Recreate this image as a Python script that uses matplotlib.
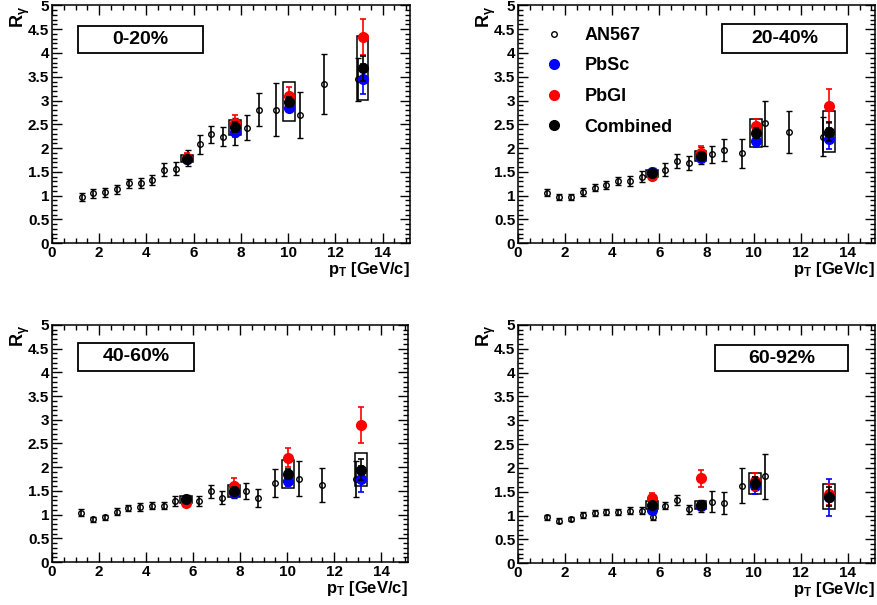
import numpy as np
import matplotlib
matplotlib.use('Agg')
import matplotlib.pyplot as plt
from matplotlib.lines import Line2D
from matplotlib.patches import Rectangle
from matplotlib.ticker import MultipleLocator

plt.rcParams['font.family'] = ['Liberation Sans', 'DejaVu Sans']
plt.rcParams['font.weight'] = 'bold'
plt.rcParams['mathtext.fontset'] = 'custom'
plt.rcParams['mathtext.rm'] = 'Liberation Sans:bold'
plt.rcParams['mathtext.it'] = 'Liberation Sans:bold'
plt.rcParams['mathtext.bf'] = 'Liberation Sans:bold'

nan = np.nan

# AN567 points (open circles)
an_x = [1.25, 1.75, 2.25, 2.75, 3.25, 3.75, 4.25, 4.75, 5.25, 5.75, 6.25,
        6.75, 7.25, 7.75, 8.25, 8.75, 9.5, 10.5, 11.5, 12.95]
an_y = {
    '0-20%':  [0.97, 1.05, 1.07, 1.13, 1.26, 1.27, 1.33, 1.55, 1.57, 1.80, 2.08,
               2.29, 2.24, 2.35, 2.43, 2.81, 2.81, 2.70, 3.34, 3.45],
    '20-40%': [1.06, 0.97, 0.97, 1.08, 1.17, 1.22, 1.31, 1.31, 1.40, 1.47, 1.55,
               1.73, 1.69, 1.85, 1.87, 1.96, 1.89, 2.52, 2.34, 2.24],
    '40-60%': [1.04, 0.90, 0.94, 1.06, 1.14, 1.16, 1.19, 1.19, 1.29, 1.32, 1.29,
               1.49, 1.36, 1.50, 1.50, 1.34, 1.67, 1.76, 1.62, 1.76],
    '60-92%': [0.96, 0.89, 0.93, 1.01, 1.05, 1.07, 1.07, 1.10, 1.10, 0.97, 1.21,
               1.33, 1.13, 1.20, 1.29, 1.26, 1.63, 1.82, nan, nan],
}
an_err = {
    '0-20%':  [0.08, 0.09, 0.09, 0.09, 0.10, 0.11, 0.11, 0.14, 0.14, 0.17, 0.20,
               0.18, 0.20, 0.29, 0.27, 0.35, 0.55, 0.49, 0.63, 0.45],
    '20-40%': [0.07, 0.07, 0.07, 0.08, 0.08, 0.09, 0.09, 0.10, 0.11, 0.12, 0.13,
               0.14, 0.15, 0.18, 0.18, 0.23, 0.30, 0.47, 0.45, 0.41],
    '40-60%': [0.07, 0.06, 0.06, 0.07, 0.07, 0.08, 0.08, 0.08, 0.10, 0.10, 0.10,
               0.13, 0.13, 0.15, 0.17, 0.19, 0.30, 0.36, 0.36, 0.38],
    '60-92%': [0.06, 0.05, 0.05, 0.06, 0.06, 0.06, 0.06, 0.07, 0.07, 0.07, 0.08,
               0.10, 0.10, 0.12, 0.22, 0.23, 0.36, 0.48, nan, nan],
}

# PbSc / PbGl / Combined points
new_x = {
    '0-20%':  [5.7, 7.75, 10.05, 13.15],
    '20-40%': [5.7, 7.75, 10.1, 13.2],
    '40-60%': [5.7, 7.75, 10.05, 13.15],
    '60-92%': [5.7, 7.75, 10.05, 13.2],
}
pbsc_y = {'0-20%': [1.78, 2.33, 2.85, 3.45], '20-40%': [1.50, 1.80, 2.15, 2.20],
          '40-60%': [1.30, 1.45, 1.70, 1.75], '60-92%': [1.12, 1.20, 1.63, 1.38]}
pbsc_err = {'0-20%': [0.08, 0.10, 0.10, 0.32], '20-40%': [0.06, 0.08, 0.12, 0.22],
            '40-60%': [0.05, 0.08, 0.10, 0.27], '60-92%': [0.05, 0.08, 0.18, 0.38]}
pbgl_y = {'0-20%': [1.80, 2.52, 3.10, 4.33], '20-40%': [1.42, 1.90, 2.46, 2.88],
          '40-60%': [1.25, 1.60, 2.20, 2.88], '60-92%': [1.37, 1.78, 1.72, 1.45]}
pbgl_err = {'0-20%': [0.10, 0.17, 0.18, 0.38], '20-40%': [0.08, 0.15, 0.15, 0.36],
            '40-60%': [0.07, 0.18, 0.20, 0.38], '60-92%': [0.10, 0.18, 0.18, 0.22]}
comb_y = {'0-20%': [1.78, 2.44, 2.98, 3.68], '20-40%': [1.47, 1.83, 2.32, 2.34],
          '40-60%': [1.32, 1.50, 1.86, 1.95], '60-92%': [1.22, 1.22, 1.68, 1.40]}
comb_err = {'0-20%': [0.06, 0.10, 0.10, 0.26], '20-40%': [0.05, 0.07, 0.10, 0.20],
            '40-60%': [0.05, 0.08, 0.10, 0.22], '60-92%': [0.05, 0.06, 0.12, 0.20]}
comb_sys = {'0-20%': [0.08, 0.16, 0.42, 0.67], '20-40%': [0.07, 0.10, 0.29, 0.43],
            '40-60%': [0.07, 0.12, 0.29, 0.35], '60-92%': [0.08, 0.09, 0.22, 0.27]}
box_half = 0.25

centralities = ['0-20%', '20-40%', '40-60%', '60-92%']
# label box position in axes fraction (x0, y0, w, h)
label_box = {
    '0-20%':  (0.072, 0.802, 0.350, 0.110),
    '20-40%': (0.573, 0.802, 0.348, 0.122),
    '40-60%': (0.072, 0.806, 0.328, 0.118),
    '60-92%': (0.552, 0.806, 0.372, 0.110),
}

fig = plt.figure(figsize=(8.77, 6.05), dpi=100)
positions = [
    [0.0593, 0.598, 0.408, 0.393],
    [0.5906, 0.598, 0.407, 0.393],
    [0.0593, 0.071, 0.406, 0.392],
    [0.5906, 0.069, 0.407, 0.394],
]

for cent, pos in zip(centralities, positions):
    ax = fig.add_axes(pos)
    ax.errorbar(an_x, an_y[cent], yerr=an_err[cent], fmt='o', ms=4, mfc='none',
                mec='black', mew=1.0, ecolor='black', elinewidth=1.2,
                capsize=2.5, capthick=1.2, zorder=3)
    xs = new_x[cent]
    for x, c, s in zip(xs, comb_y[cent], comb_sys[cent]):
        ax.add_patch(Rectangle((x - box_half, c - s), 2 * box_half, 2 * s,
                               fill=False, ec='black', lw=1.1, zorder=4))
    ax.errorbar(xs, pbsc_y[cent], yerr=pbsc_err[cent], fmt='o', ms=7,
                color='#0000ff', ecolor='#0000ff', elinewidth=1.2,
                capsize=2.5, capthick=1.2, zorder=5)
    ax.errorbar(xs, pbgl_y[cent], yerr=pbgl_err[cent], fmt='o', ms=7,
                color='#ff0000', ecolor='#ff0000', elinewidth=1.2,
                capsize=2.5, capthick=1.2, zorder=6)
    ax.errorbar(xs, comb_y[cent], yerr=comb_err[cent], fmt='o', ms=7,
                color='black', ecolor='black', elinewidth=1.2,
                capsize=2.5, capthick=1.2, zorder=7)

    ax.set_xlim(0, 15.15)
    ax.set_ylim(0, 5)
    ax.xaxis.set_major_locator(MultipleLocator(2))
    ax.xaxis.set_minor_locator(MultipleLocator(0.5))
    ax.yaxis.set_major_locator(MultipleLocator(0.5))
    ax.yaxis.set_minor_locator(MultipleLocator(0.1))
    ax.set_yticks(np.arange(0, 5.01, 0.5))
    ax.set_yticklabels(['0', '0.5', '1', '1.5', '2', '2.5', '3', '3.5', '4', '4.5', '5'])
    ax.tick_params(which='both', direction='in', top=True, right=True,
                   labelsize=11, width=1.0, pad=2)
    ax.tick_params(which='major', length=7)
    ax.tick_params(which='minor', length=3.5)
    for lab in ax.get_xticklabels() + ax.get_yticklabels():
        lab.set_fontweight('bold')
    for sp in ax.spines.values():
        sp.set_linewidth(1.1)

    ax.set_xlabel(r'p$_{\mathrm{T}}$ [GeV/c]', loc='right', fontsize=12,
                  fontweight='bold', labelpad=0)
    ax.set_ylabel(r'R$_{\gamma}$', loc='top', fontsize=13, fontweight='bold')
    ax.yaxis.set_label_coords(-0.055, 1.0)

    bx, by, bw, bh = label_box[cent]
    ax.add_patch(Rectangle((bx, by), bw, bh, transform=ax.transAxes,
                           fill=False, ec='black', lw=1.3, zorder=8))
    ax.text(bx + bw / 2, by + bh / 2, cent, transform=ax.transAxes,
            ha='center', va='center', fontsize=14, fontweight='bold', zorder=9)

    if cent == '20-40%':
        handles = [
            Line2D([], [], ls='none', marker='o', ms=4, mfc='none', mec='black', mew=1.0),
            Line2D([], [], ls='none', marker='o', ms=7, color='#0000ff'),
            Line2D([], [], ls='none', marker='o', ms=7, color='#ff0000'),
            Line2D([], [], ls='none', marker='o', ms=7, color='black'),
        ]
        ax.legend(handles, ['AN567', 'PbSc', 'PbGl', 'Combined'], loc='upper left',
                  bbox_to_anchor=(0.03, 0.978), frameon=False,
                  prop={'weight': 'bold', 'size': 13}, handlelength=1.0,
                  handletextpad=1.2, labelspacing=0.75)

fig.savefig('out.png', dpi=100)
